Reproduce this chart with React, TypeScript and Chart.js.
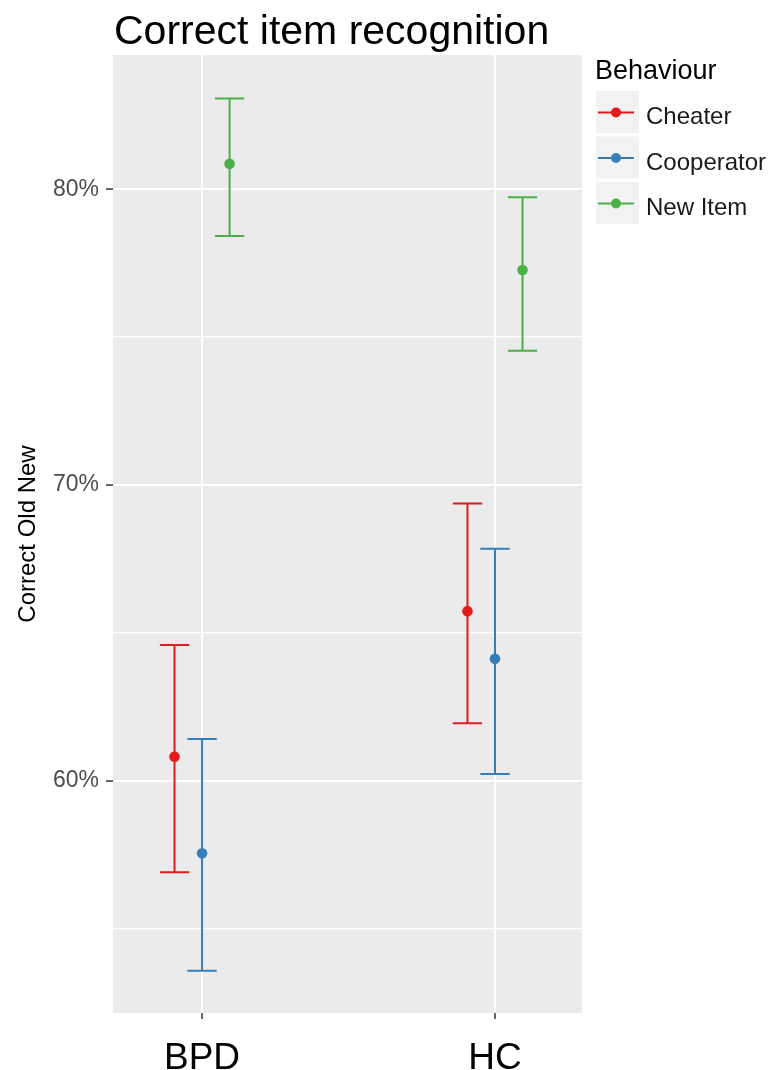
import React, { useEffect, useRef } from "react";
import { Chart, registerables } from "chart.js";

Chart.register(...registerables);

const categories = ["BPD", "HC"];
const behaviours = ["Cheater", "Cooperator", "New Item"];
const colours = ["#E41A1C", "#377EB8", "#4DAF4A"];

const cheaterMean = [60.81, 65.73];
const cheaterLow = [56.9, 61.94];
const cheaterHigh = [64.59, 69.37];

const cooperatorMean = [57.54, 64.12];
const cooperatorLow = [53.57, 60.22];
const cooperatorHigh = [61.41, 67.84];

const newItemMean = [80.86, 77.27];
const newItemLow = [78.42, 74.54];
const newItemHigh = [83.07, 79.73];

const yTickValues = [55, 60, 65, 70, 75, 80];
const yMajorStep = 10;

const means = [cheaterMean, cooperatorMean, newItemMean];
const lows = [cheaterLow, cooperatorLow, newItemLow];
const highs = [cheaterHigh, cooperatorHigh, newItemHigh];

const DODGE = [-0.094, 0, 0.094];
const CAP_HALF = 0.05;
const FONT = "'Liberation Sans', Arial, sans-serif";
const TITLE = "Correct item recognition";
const LEGEND_TITLE = "Behaviour";
const Y_TITLE = "Correct Old New";

const panelBg = {
  id: "panelBg",
  beforeDraw(chart: any) {
    const { ctx, chartArea: a } = chart;
    ctx.save();
    ctx.fillStyle = "#EBEBEB";
    ctx.fillRect(a.left, a.top, a.right - a.left, a.bottom - a.top);
    ctx.restore();
  },
};

const errorBars = {
  id: "errorBars",
  beforeDatasetsDraw(chart: any) {
    const { ctx } = chart;
    const xs = chart.scales.x;
    const ys = chart.scales.y;
    ctx.save();
    chart.data.datasets.forEach((ds: any) => {
      ds.data.forEach((pt: any, i: number) => {
        const px = xs.getPixelForValue(pt.x);
        const half = Math.abs(xs.getPixelForValue(pt.x + CAP_HALF) - px);
        const yl = ys.getPixelForValue(ds.errLow[i]);
        const yh = ys.getPixelForValue(ds.errHigh[i]);
        ctx.strokeStyle = ds.backgroundColor;
        ctx.lineWidth = 2;
        ctx.beginPath();
        ctx.moveTo(px, yh);
        ctx.lineTo(px, yl);
        ctx.moveTo(px - half, yh);
        ctx.lineTo(px + half, yh);
        ctx.moveTo(px - half, yl);
        ctx.lineTo(px + half, yl);
        ctx.stroke();
      });
    });
    ctx.restore();
  },
};

const titleAndLegend = {
  id: "titleAndLegend",
  afterDraw(chart: any) {
    const { ctx, chartArea: a } = chart;
    ctx.save();
    ctx.fillStyle = "#000";
    ctx.textAlign = "left";
    ctx.textBaseline = "alphabetic";
    ctx.font = `41px ${FONT}`;
    ctx.fillText(TITLE, a.left + 1, 44);

    const lx = a.right + 13;
    ctx.font = `27px ${FONT}`;
    ctx.fillText(LEGEND_TITLE, lx, 79);
    chart.data.datasets.forEach((ds: any, i: number) => {
      const top = 91 + i * 45.5;
      const cy = top + 21.5;
      ctx.fillStyle = "#F2F2F2";
      ctx.fillRect(lx + 1, top, 43, 42);
      ctx.strokeStyle = ds.backgroundColor;
      ctx.lineWidth = 2;
      ctx.beginPath();
      ctx.moveTo(lx + 3, cy);
      ctx.lineTo(lx + 39, cy);
      ctx.stroke();
      ctx.fillStyle = ds.backgroundColor;
      ctx.beginPath();
      ctx.arc(lx + 21, cy, 5, 0, Math.PI * 2);
      ctx.fill();
      ctx.fillStyle = "#1a1a1a";
      ctx.font = `24px ${FONT}`;
      ctx.fillText(ds.label, lx + 51, cy + 11.5);
    });
    ctx.restore();
  },
};

export default function App() {
  const ref = useRef<HTMLCanvasElement | null>(null);

  useEffect(() => {
    if (!ref.current) return;
    const datasets = behaviours.map((b, di) => ({
      label: b,
      data: categories.map((_, ci) => ({ x: ci + 1 + DODGE[di], y: means[di][ci] })),
      errLow: lows[di],
      errHigh: highs[di],
      backgroundColor: colours[di],
      borderColor: colours[di],
      pointRadius: 5.3,
      pointHoverRadius: 5.3,
      pointBorderWidth: 0,
      showLine: false,
    }));

    const chart = new Chart(ref.current, {
      type: "scatter",
      data: { datasets } as any,
      plugins: [panelBg, errorBars, titleAndLegend],
      options: {
        responsive: false,
        maintainAspectRatio: false,
        animation: false,
        devicePixelRatio: 1,
        events: [],
        layout: { padding: { top: 55, right: 188, bottom: 0, left: 0 } },
        plugins: {
          legend: { display: false },
          title: { display: false },
          tooltip: { enabled: false },
        },
        scales: {
          x: {
            type: "linear",
            position: "bottom",
            min: 0.696,
            max: 2.297,
            afterBuildTicks: (s: any) => {
              s.ticks = categories.map((_, i) => ({ value: i + 1 }));
            },
            afterFit: (s: any) => {
              s.height = 57;
            },
            ticks: {
              autoSkip: false,
              maxRotation: 0,
              color: "#000",
              padding: 18,
              font: { size: 37, family: FONT },
              callback: (v: any) => categories[Math.round(Number(v)) - 1] ?? "",
            },
            grid: {
              color: "#FFFFFF",
              lineWidth: 2,
              drawTicks: true,
              tickLength: 6,
              tickColor: "#333333",
              tickWidth: 1.5,
            },
            border: { display: false },
          },
          y: {
            type: "linear",
            min: 52.14,
            max: 84.54,
            afterBuildTicks: (s: any) => {
              s.ticks = yTickValues.map((v) => ({ value: v }));
            },
            afterFit: (s: any) => {
              s.width = 113;
            },
            title: {
              display: true,
              text: Y_TITLE,
              color: "#000",
              font: { size: 24, family: FONT },
              padding: { top: 14, bottom: 0 },
            },
            ticks: {
              color: "#4D4D4D",
              padding: 7,
              font: { size: 23, family: FONT },
              callback: (v: any) => (Number(v) % yMajorStep === 0 ? `${v}%` : ""),
            },
            grid: {
              color: "#FFFFFF",
              lineWidth: (c: any) => (c.tick && c.tick.value % yMajorStep === 0 ? 2 : 1.2),
              drawTicks: true,
              tickLength: 7,
              tickWidth: 1.5,
              tickColor: (c: any) =>
                c.tick && c.tick.value % yMajorStep === 0 ? "#333333" : "rgba(0,0,0,0)",
            },
            border: { display: false },
          },
        },
      } as any,
    });
    return () => chart.destroy();
  }, []);

  return (
    <div style={{ position: "fixed", left: 0, top: 0, width: 770, height: 1070, background: "#fff" }}>
      <canvas ref={ref} width={770} height={1070} style={{ display: "block" }} />
    </div>
  );
}
